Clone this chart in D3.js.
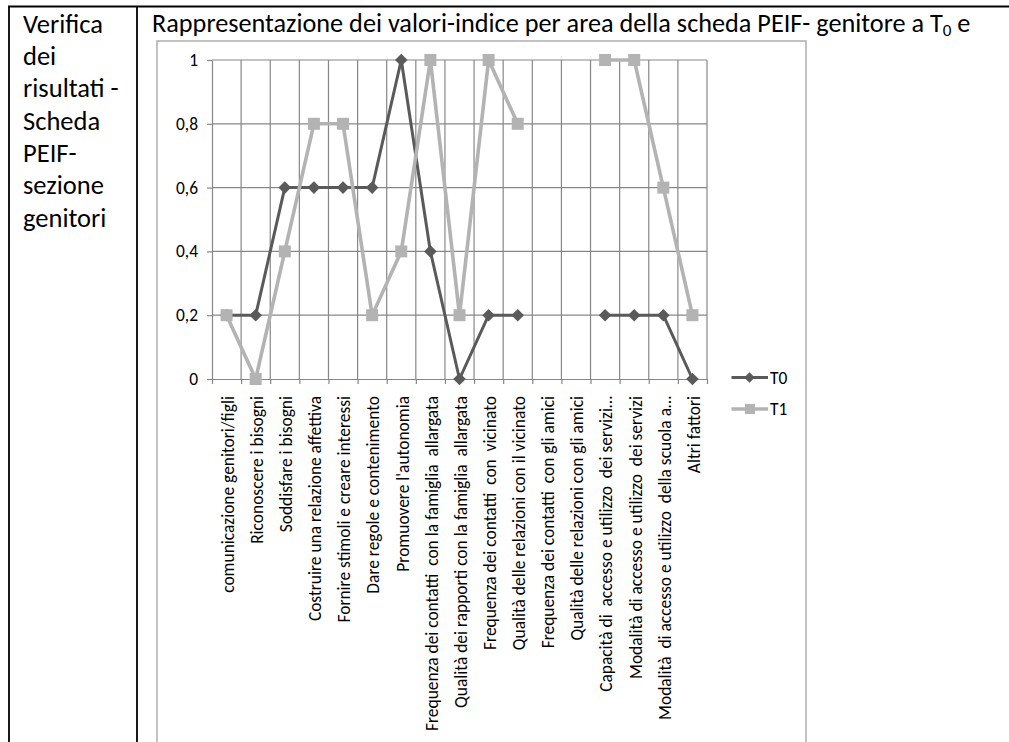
<!DOCTYPE html>
<html><head><meta charset="utf-8">
<script src="https://cdn.jsdelivr.net/npm/d3@7"></script>
<style>html,body{margin:0;padding:0;background:#fff;overflow:hidden;} svg{display:block;} text{white-space:pre;}</style>
</head><body>
<svg id="c" width="1009" height="742"></svg>
<script>
// ---------- data ----------
const categories = [
  "comunicazione genitori/figli",
  "Riconoscere i bisogni",
  "Soddisfare i bisogni",
  "Costruire una relazione affettiva",
  "Fornire stimoli e creare interessi",
  "Dare regole e contenimento",
  "Promuovere l'autonomia",
  "Frequenza dei contatti  con la famiglia  allargata",
  "Qualità dei rapporti con la famiglia  allargata",
  "Frequenza dei contatti  con  vicinato",
  "Qualità delle relazioni con il vicinato",
  "Frequenza dei contatti  con gli amici",
  "Qualità delle relazioni con gli amici",
  "Capacità di  accesso e utilizzo  dei servizi…",
  "Modalità di accesso e utilizzo  dei servizi",
  "Modalità  di accesso e utilizzo  della scuola a…",
  "Altri fattori"
];
const seriesT0 = [0.2, 0.2, 0.6, 0.6, 0.6, 0.6, 1, 0.4, 0, 0.2, 0.2, null, null, 0.2, 0.2, 0.2, 0];
const seriesT1 = [0.2, 0, 0.4, 0.8, 0.8, 0.2, 0.4, 1, 0.2, 1, 0.8, null, null, 1, 1, 0.6, 0.2];
const seriesNames = ["T0", "T1"];
const yTicks = [0, 0.2, 0.4, 0.6, 0.8, 1];
const yTickLabels = ["0", "0,2", "0,4", "0,6", "0,8", "1"];
const leftCellLines = ["Verifica", "dei", "risultati -", "Scheda", "PEIF-", "sezione", "genitori"];
const titleMain = "Rappresentazione dei valori-indice per area della scheda PEIF- genitore a T";
const titleSub = "0";
const titleTail = " e";

// ---------- setup ----------
const FONT = "Carlito, Lato, 'Open Sans', sans-serif";
const svg = d3.select("#c");

function measure(str, size) {
  const t = svg.append("text").attr("font-family", FONT).attr("font-size", size)
    .attr("xml:space", "preserve").text(str);
  const w = t.node().getComputedTextLength();
  t.remove();
  return w;
}
function fit(str, target) { return 100 * target / measure(str, 100); }

const cellSize = fit("Verifica", 80);
const titleSize = fit(titleMain, 791);
const labelSize = fit(categories[0], 197);

// ---------- table ----------
const tbl = svg.append("g").attr("stroke", "#000").attr("stroke-width", 1.8);
tbl.append("line").attr("x1", 8).attr("x2", 1009).attr("y1", 6.5).attr("y2", 6.5);
tbl.append("line").attr("x1", 9).attr("x2", 9).attr("y1", 6).attr("y2", 742);
tbl.append("line").attr("x1", 137).attr("x2", 137).attr("y1", 6).attr("y2", 742);

svg.append("g").selectAll("text").data(leftCellLines).join("text")
  .attr("x", 23).attr("y", (d, i) => 32.8 + i * 32.3)
  .attr("font-family", FONT).attr("font-size", cellSize).attr("fill", "#000")
  .text(d => d);

const title = svg.append("text").attr("x", 152).attr("y", 32.3)
  .attr("font-family", FONT).attr("font-size", titleSize).attr("fill", "#000")
  .attr("xml:space", "preserve");
title.append("tspan").text(titleMain);
title.append("tspan").attr("font-size", titleSize * 0.65).attr("dy", 4).text(titleSub);
title.append("tspan").attr("dy", -4).text(titleTail);

// ---------- chart frame ----------
svg.append("rect").attr("x", 157).attr("y", 41).attr("width", 649).attr("height", 760)
  .attr("fill", "none").attr("stroke", "#b3b3b3").attr("stroke-width", 1.6);

// ---------- scales ----------
const x = d3.scaleBand().domain(d3.range(categories.length)).range([212, 707]).padding(0);
const xb = d3.scaleLinear().domain([0, categories.length]).range([212, 707]);
const y = d3.scaleLinear().domain([0, 1]).range([379, 60]);
const cx = i => x(i) + x.bandwidth() / 2;

const gridColor = "#878787";
// horizontal grid
svg.append("g").selectAll("line").data(yTicks.filter(d => d > 0)).join("line")
  .attr("x1", xb(0)).attr("x2", xb(categories.length))
  .attr("y1", d => y(d)).attr("y2", d => y(d))
  .attr("stroke", gridColor).attr("stroke-width", 1.2);
// vertical grid
svg.append("g").selectAll("line").data(d3.range(1, categories.length + 1)).join("line")
  .attr("x1", d => xb(d)).attr("x2", d => xb(d))
  .attr("y1", y(0)).attr("y2", y(1))
  .attr("stroke", gridColor).attr("stroke-width", 1.2);

// y axis
const ya = svg.append("g").attr("transform", `translate(${xb(0)},0)`)
  .call(d3.axisLeft(y).tickValues(yTicks).tickFormat((d, i) => yTickLabels[i])
    .tickSize(5).tickSizeOuter(0).tickPadding(9));
ya.selectAll("path,line").attr("stroke", gridColor).attr("stroke-width", 1.2);
ya.selectAll("text").attr("font-family", FONT).attr("font-size", labelSize).attr("fill", "#000");

// x axis
const xa = svg.append("g").attr("transform", `translate(0,${y(0)})`)
  .call(d3.axisBottom(xb).tickValues(d3.range(categories.length + 1)).tickFormat("")
    .tickSize(5).tickSizeOuter(0));
xa.selectAll("path,line").attr("stroke", gridColor).attr("stroke-width", 1.2);

// category labels
svg.append("g").selectAll("text").data(categories).join("text")
  .attr("transform", (d, i) => `translate(${cx(i) + labelSize * 0.42},396) rotate(-90)`)
  .attr("text-anchor", "end").attr("xml:space", "preserve")
  .attr("font-family", FONT).attr("font-size", labelSize).attr("fill", "#000")
  .text(d => d);

// ---------- series ----------
const colT0 = "#5a5a5a", colT1 = "#b3b3b3";
const line = d3.line().defined(d => d != null).x((d, i) => cx(i)).y(d => y(d));
const diamond = r => `M0,${-r}L${r},0L0,${r}L${-r},0Z`;

function drawSeries(vals, color, width, marker) {
  const g = svg.append("g");
  g.append("path").datum(vals).attr("d", line).attr("fill", "none")
    .attr("stroke", color).attr("stroke-width", width).attr("stroke-linejoin", "round");
  const pts = vals.map((v, i) => ({ v, i })).filter(d => d.v != null);
  if (marker === "diamond") {
    g.selectAll("path.m").data(pts).join("path").attr("class", "m")
      .attr("transform", d => `translate(${cx(d.i)},${y(d.v)})`)
      .attr("d", diamond(6.3)).attr("fill", color);
  } else {
    g.selectAll("rect").data(pts).join("rect")
      .attr("x", d => cx(d.i) - 6).attr("y", d => y(d.v) - 6)
      .attr("width", 12).attr("height", 12).attr("fill", color);
  }
}
drawSeries(seriesT0, colT0, 3, "diamond");
drawSeries(seriesT1, colT1, 3.6, "square");

// ---------- legend ----------
const legend = [
  { name: seriesNames[0], color: colT0, w: 3, marker: "diamond", y: 377.5 },
  { name: seriesNames[1], color: colT1, w: 3.6, marker: "square", y: 409 }
];
const lg = svg.append("g");
legend.forEach(l => {
  lg.append("line").attr("x1", 731.5).attr("x2", 768).attr("y1", l.y).attr("y2", l.y)
    .attr("stroke", l.color).attr("stroke-width", l.w);
  if (l.marker === "diamond") {
    lg.append("path").attr("transform", `translate(749.5,${l.y})`).attr("d", diamond(5.3)).attr("fill", l.color);
  } else {
    lg.append("rect").attr("x", 745).attr("y", l.y - 5).attr("width", 10).attr("height", 10).attr("fill", l.color);
  }
  lg.append("text").attr("x", 770).attr("y", l.y).attr("dy", "0.35em")
    .attr("font-family", FONT).attr("font-size", labelSize).attr("fill", "#000").text(l.name);
});
</script>
</body></html>
